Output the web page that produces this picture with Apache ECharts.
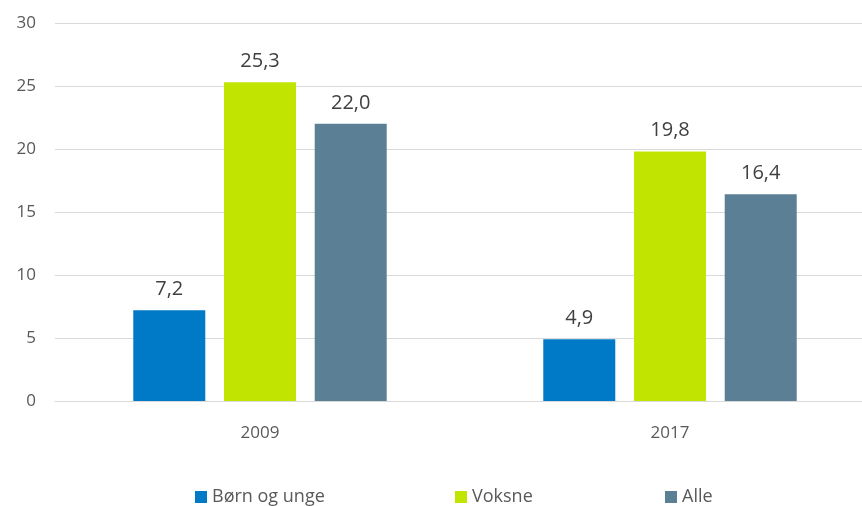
<!DOCTYPE html>
<html>
<head>
    <meta charset="utf-8">
    <script src="https://cdn.jsdelivr.net/npm/echarts@6.0.0/dist/echarts.min.js"></script>
    <style>
        html, body { margin: 0; padding: 0; background: #fff; overflow: hidden; }
        /* the plot runs a little past the right edge of the picture */
        #chart { width: 875px; height: 506px; }
    </style>
</head>
<body>
    <div id="chart"></div>
    <script>
        // data
        var years = ['2009', '2017'];
        var seriesNames = ['Børn og unge', 'Voksne', 'Alle'];
        var boernOgUnge = [7.2, 4.9];
        var voksne = [25.3, 19.8];
        var alle = [22.0, 16.4];
        var yTicks = [0, 5, 10, 15, 20, 25, 30];

        var colors = ['#0079c6', '#c1e500', '#5b7f95'];
        var legendLeft = [195, 455, 665];
        var font = '"Open Sans", "Noto Sans", sans-serif';

        var chart = echarts.init(document.getElementById('chart'));

        function bar(name, data, color) {
            return {
                name: name,
                type: 'bar',
                data: data,
                barWidth: 72,
                barGap: '26%',
                itemStyle: { color: color },
                label: {
                    show: true,
                    position: 'top',
                    distance: 11,
                    color: '#404040',
                    fontSize: 20,
                    fontFamily: font,
                    formatter: function (p) { return p.value.toFixed(1).replace('.', ','); }
                }
            };
        }

        // one legend per item so each sits where the picture has it
        var legends = seriesNames.map(function (name, i) {
            return {
                left: legendLeft[i],
                bottom: 0,
                padding: 0,
                itemWidth: 12,
                itemHeight: 12,
                icon: 'rect',
                textStyle: { color: '#595959', fontSize: 18, fontFamily: font },
                data: [name]
            };
        });

        var option = {
            animation: false,
            color: colors,
            grid: { left: 55, right: 0, top: 23, bottom: 105, containLabel: false },
            legend: legends,
            xAxis: {
                type: 'category',
                data: years,
                axisLine: { lineStyle: { color: '#d9d9d9' } },
                axisTick: { show: false },
                axisLabel: { color: '#595959', fontSize: 17, fontFamily: font, margin: 24 }
            },
            yAxis: {
                type: 'value',
                min: yTicks[0],
                max: yTicks[yTicks.length - 1],
                interval: 5,
                axisLine: { show: false },
                axisTick: { show: false },
                splitLine: { lineStyle: { color: '#d9d9d9' } },
                axisLabel: { color: '#595959', fontSize: 17, fontFamily: font, margin: 19 }
            },
            series: [
                bar(seriesNames[0], boernOgUnge, colors[0]),
                bar(seriesNames[1], voksne, colors[1]),
                bar(seriesNames[2], alle, colors[2])
            ]
        };
        chart.setOption(option);
    </script>
</body>
</html>
